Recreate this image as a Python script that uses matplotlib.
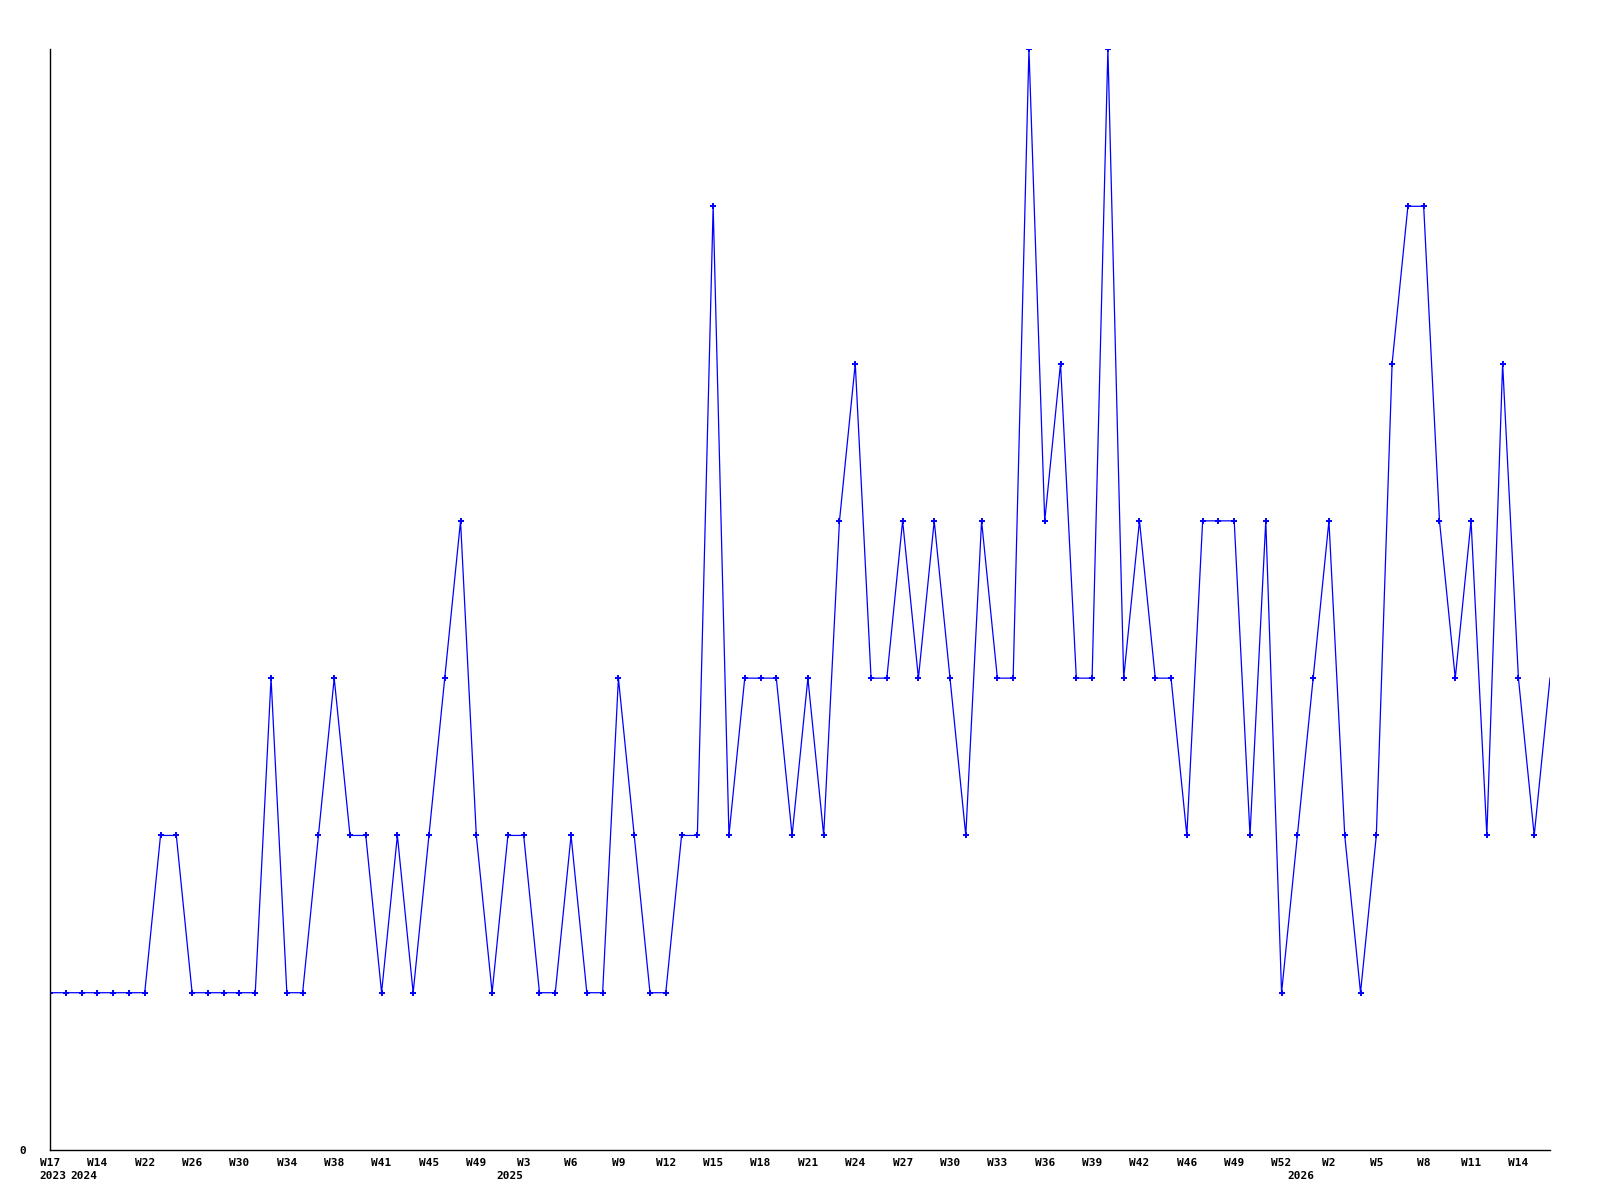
import matplotlib
matplotlib.use("Agg")
import matplotlib.pyplot as plt
import numpy as np

# ---- data ----
values = [1, 1, 1, 1, 1, 1, 1, 2, 2, 1, 1, 1, 1, 1, 3, 1, 1, 2, 3, 2,
          2, 1, 2, 1, 2, 3, 4, 2, 1, 2, 2, 1, 1, 2, 1, 1, 3, 2, 1, 1,
          2, 2, 6, 2, 3, 3, 3, 2, 3, 2, 4, 5, 3, 3, 4, 3, 4, 3, 2, 4,
          3, 3, 7, 4, 5, 3, 3, 7, 3, 4, 3, 3, 2, 4, 4, 4, 2, 4, 1, 2,
          3, 4, 2, 1, 2, 5, 6, 6, 4, 3, 4, 2, 5, 3, 2, 3]
tick_labels = ["W17", "W14", "W22", "W26", "W30", "W34", "W38", "W41", "W45", "W49",
               "W3", "W6", "W9", "W12", "W15", "W18", "W21", "W24", "W27", "W30",
               "W33", "W36", "W39", "W42", "W46", "W49", "W52", "W2", "W5", "W8",
               "W11", "W14"]
tick_step = 3
year_labels = ["2023", "2024", "2025", "2026"]
year_positions = [0.2, 2.15, 29.1, 79.2]

x = np.arange(len(values))

fig = plt.figure(figsize=(16, 12), dpi=100)
ax = fig.add_axes([50/1600, 50/1200, 1500/1600, 1101/1200])

ax.plot(x, values, color="#0000ff", lw=0.9, marker="+", markersize=4.5,
        mew=1.4, markevery=list(range(len(values) - 1)))

ax.set_xlim(0, len(values) - 1)
ax.set_ylim(0, 7)

for s in ["top", "right"]:
    ax.spines[s].set_visible(False)
for s in ["left", "bottom"]:
    ax.spines[s].set_color("black")
    ax.spines[s].set_linewidth(1.0)

font = dict(family="DejaVu Sans Mono", weight="bold", size=8)

ax.set_yticks([0])
ax.set_yticklabels(["0"], fontdict=font)
ax.tick_params(axis="y", length=0, pad=17)

ax.set_xticks(x[::tick_step][:len(tick_labels)])
ax.set_xticklabels(tick_labels, fontdict=font)
ax.tick_params(axis="x", length=0, pad=6)

for lab, pos in zip(year_labels, year_positions):
    ax.annotate(lab, xy=(pos, 0), xycoords=("data", "axes fraction"),
                xytext=(0, -19), textcoords="offset points",
                ha="center", va="center", **font)

fig.savefig("out.png", dpi=100, facecolor="white")
